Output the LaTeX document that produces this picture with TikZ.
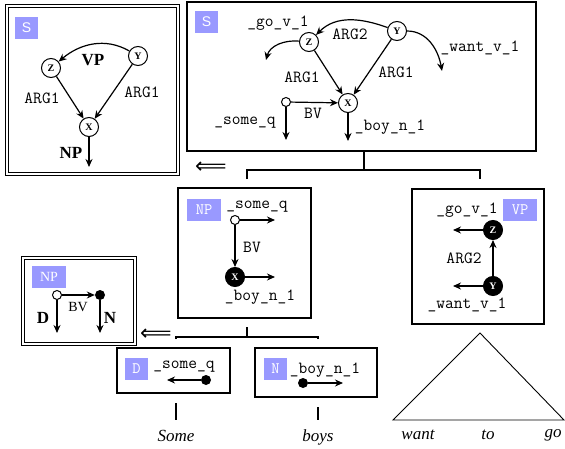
\documentclass[tikz,border=0pt]{standalone}
\usepackage{fontspec}
\setmainfont{Liberation Serif}
\setsansfont{Liberation Sans}
\newfontfamily\symfont{DejaVu Sans}
\usetikzlibrary{arrows.meta}
\definecolor{tag}{HTML}{9999FF}
\tikzset{
  frame/.style={draw, line width=1.1pt, inner sep=0pt},
  dframe/.style={draw, double, line width=0.9pt, double distance=1.8pt, inner sep=0pt},
  tagbox/.style={fill=tag, text=white, minimum width=23pt, minimum height=22pt,
                 inner sep=1pt, font=\sffamily\fontsize{14}{14}\selectfont},
  monotag/.style={tagbox, font=\ttfamily\fontsize{16}{16}\selectfont},
  var/.style={circle, draw, line width=1pt, fill=white, minimum size=19pt,
              inner sep=0pt, font=\bfseries\fontsize{10}{10}\selectfont},
  bvar/.style={var, fill=black, text=white},
  hole/.style={circle, draw, line width=1pt, fill=white, minimum size=9pt, inner sep=0pt},
  dot/.style={circle, fill=black, minimum size=10pt, inner sep=0pt},
  rel/.style={font=\ttfamily\fontsize{17}{17}\selectfont, inner sep=1pt},
  cat/.style={font=\bfseries\fontsize{17}{17}\selectfont, inner sep=1pt},
  word/.style={font=\itshape\fontsize{17}{17}\selectfont, inner sep=1pt},
  imply/.style={font=\symfont\fontsize{22}{22}\selectfont, inner sep=0pt},
  arrow/.style={-{Stealth[length=8pt,width=7pt]}, line width=1.2pt},
  branch/.style={line width=1.2pt}
}

\begin{document}
\begin{tikzpicture}[x=1pt,y=1pt]
  \useasboundingbox (0,0) rectangle (565,448);

  % summary of the sentence
  \node[dframe, minimum width=171pt, minimum height=168pt] (sumS) at (92.5,358) {};
  \node[tagbox] (sA) at (26.5,420) {S};
  \node[var] (zA) at (51,380) {Z};
  \node[var] (yA) at (138,392) {Y};
  \node[var] (xA) at (89,321) {X};
  \coordinate (npA) at (89,281);
  \draw[arrow] (yA) to[out=150,in=40] (zA);
  \draw[arrow] (zA) -- (xA);
  \draw[arrow] (yA) -- (xA);
  \draw[arrow] (xA) -- (npA);
  \node[cat] (vpA) at (93,388) {VP};
  \node[rel] (argA1) at (42,350) {ARG1};
  \node[rel] (argA2) at (142,356) {ARG1};
  \node[cat] (npAl) at (71,295) {NP};

  % full sentence
  \node[frame, minimum width=349pt, minimum height=149pt] (top) at (361.5,371.5) {};
  \node[tagbox] (sB) at (206.5,426) {S};
  \node[var] (zB) at (309,406) {Z};
  \node[var] (yB) at (397,417) {Y};
  \node[var] (xB) at (348,345) {X};
  \node[hole] (qB) at (286,346) {};
  \coordinate (goB) at (266,388);
  \coordinate (wantB) at (442,377);
  \coordinate (someB) at (286,308);
  \coordinate (boyB) at (348,307);
  \draw[arrow] (yB) to[out=160,in=45] (zB);
  \draw[arrow] (zB) to[out=175,in=75] (goB);
  \draw[arrow] (yB) to[out=0,in=100] (wantB);
  \draw[arrow] (zB) -- (xB);
  \draw[arrow] (yB) -- (xB);
  \draw[arrow] (qB) -- (xB);
  \draw[arrow] (qB) -- (someB);
  \draw[arrow] (xB) -- (boyB);
  \node[rel] (goBl) at (278,425) {\_go\_v\_1};
  \node[rel] (arg2B) at (350,414) {ARG2};
  \node[rel] (wantBl) at (480,400) {\_want\_v\_1};
  \node[rel] (arg1B) at (302,371) {ARG1};
  \node[rel] (arg1Bb) at (396,376) {ARG1};
  \node[rel] (bvB) at (313,335) {BV};
  \node[rel] (someBl) at (245,325) {\_some\_q};
  \node[rel] (boyBl) at (390,321) {\_boy\_n\_1};

  \node[imply] (impA) at (211,280) {⟸};

  % upper branching
  \coordinate (t1) at (364,278);
  \coordinate (t1l) at (247,269);
  \coordinate (t1r) at (480,269);
  \draw[branch] (t1 |- top.south) -- (t1);
  \draw[branch] (t1l) |- (t1) -| (t1r);

  % noun phrase
  \node[frame, minimum width=133pt, minimum height=130pt] (npbox) at (244.5,195) {};
  \node[monotag, minimum width=34pt] (npC) at (204,238.5) {NP};
  \node[hole] (qC) at (235,228) {};
  \node[bvar] (xC) at (235,171) {X};
  \coordinate (qCend) at (275,228);
  \coordinate (xCend) at (275,171);
  \draw[arrow] (qC) -- (qCend);
  \draw[arrow] (qC) -- (xC);
  \draw[arrow] (xC) -- (xCend);
  \node[rel] (someC) at (257,241) {\_some\_q};
  \node[rel] (bvC) at (252,201) {BV};
  \node[rel] (boyC) at (260,151) {\_boy\_n\_1};

  % verb phrase
  \node[frame, minimum width=132pt, minimum height=135pt] (vpbox) at (478,191.5) {};
  \node[monotag, minimum width=34pt] (vpD) at (520,238.5) {VP};
  \node[bvar] (zD) at (493,218) {Z};
  \node[bvar] (yD) at (493,162) {Y};
  \coordinate (zDend) at (453,218);
  \coordinate (yDend) at (453,162);
  \draw[arrow] (zD) -- (zDend);
  \draw[arrow] (yD) -- (yDend);
  \draw[arrow] (yD) -- (zD);
  \node[rel] (goD) at (467,238) {\_go\_v\_1};
  \node[rel] (arg2D) at (464,190) {ARG2};
  \node[rel] (wantD) at (467,143) {\_want\_v\_1};

  % summary of the noun phrase
  \node[dframe, minimum width=112pt, minimum height=86pt] (sumNP) at (79,147) {};
  \node[tagbox, font=\fontsize{14}{14}\selectfont, minimum width=34pt] (npE) at (49,171) {NP};
  \node[hole] (qE) at (57,153) {};
  \node[dot] (nE) at (100,153) {};
  \coordinate (qEend) at (57,115);
  \coordinate (nEend) at (100,115);
  \draw[arrow] (qE) -- (nE);
  \draw[arrow] (qE) -- (qEend);
  \draw[arrow] (nE) -- (nEend);
  \node[cat] (dE) at (43,130) {D};
  \node[font=\fontsize{14}{14}\selectfont] (bvE) at (78,141) {BV};
  \node[cat] (nEl) at (110,130) {N};

  \node[imply] (impB) at (156,113) {⟸};

  % lower branching
  \coordinate (t2) at (247,111);
  \coordinate (t2l) at (176,109);
  \coordinate (t2r) at (318,109);
  \draw[branch] (t2 |- 0,121) -- (t2);
  \draw[branch] (t2l) |- (t2) -| (t2r);

  % determiner and noun
  \node[frame, minimum width=113pt, minimum height=45pt] (dbox) at (173.5,77.5) {};
  \node[monotag] (dF) at (136.5,79.5) {D};
  \node[rel] (someF) at (184,81) {\_some\_q};
  \node[dot] (dotF) at (206,68) {};
  \coordinate (dotFend) at (167,68);
  \draw[arrow] (dotF) -- (dotFend);

  \node[frame, minimum width=122pt, minimum height=49pt] (nbox) at (316,75.5) {};
  \node[monotag] (nG) at (275.5,79.5) {N};
  \node[rel] (boyG) at (325,78) {\_boy\_n\_1};
  \node[dot] (dotG) at (303,65) {};
  \coordinate (dotGend) at (343,65);
  \draw[arrow] (dotG) -- (dotGend);

  % words
  \node[word] (some) at (176,12) {Some};
  \node[word] (boys) at (318,11) {boys};
  \coordinate (someTop) at (176,45);
  \coordinate (boysTop) at (318,41);
  \draw[branch] (someTop) -- (someTop |- 0,28);
  \draw[branch] (boysTop) -- (boysTop |- 0,28);

  \coordinate (apex) at (480,115);
  \coordinate (triL) at (393,28);
  \coordinate (triR) at (564,28);
  \draw[line width=0.9pt] (apex) -- (triL) -- (triR) -- cycle;
  \node[word] (want) at (418,13) {want};
  \node[word] (to) at (488,13) {to};
  \node[word] (go) at (553,13) {go};
\end{tikzpicture}
\end{document}
